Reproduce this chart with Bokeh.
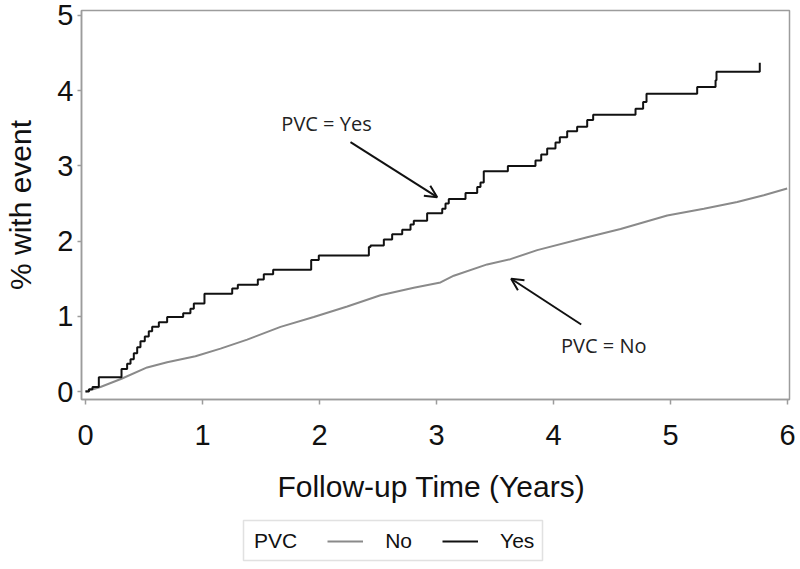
from bokeh.plotting import figure
from bokeh.layouts import column
from bokeh.models import (Range1d, Legend, LegendItem, Arrow, OpenHead, Label,
                          FixedTicker, BoxAnnotation)
from bokeh.embed import file_html
from bokeh.resources import INLINE

# ---- data ----
yes_time = [0.0, 0.03, 0.06, 0.114, 0.308, 0.356, 0.385, 0.413, 0.442, 0.470,
            0.507, 0.541, 0.570, 0.627, 0.698, 0.835, 0.897, 0.926, 1.017, 1.254,
            1.302, 1.473, 1.524, 1.604, 1.929, 1.994, 2.422, 2.436, 2.550, 2.621,
            2.707, 2.778, 2.806, 2.920, 3.049, 3.077, 3.105, 3.248, 3.348, 3.376,
            3.404, 3.610, 3.846, 3.895, 3.946, 4.017, 4.054, 4.117, 4.202, 4.288,
            4.339, 4.701, 4.766, 4.795, 5.228, 5.385, 5.393, 5.763]
yes_pct = [0.0, 0.03, 0.06, 0.19, 0.30, 0.37, 0.43, 0.51, 0.59, 0.67,
           0.73, 0.80, 0.86, 0.92, 0.99, 1.04, 1.10, 1.17, 1.30, 1.37,
           1.42, 1.49, 1.56, 1.62, 1.75, 1.81, 1.92, 1.94, 2.02, 2.09,
           2.15, 2.22, 2.27, 2.37, 2.43, 2.50, 2.56, 2.64, 2.72, 2.78,
           2.93, 3.00, 3.07, 3.15, 3.23, 3.31, 3.38, 3.46, 3.52, 3.61,
           3.68, 3.76, 3.85, 3.96, 4.05, 4.14, 4.25, 4.37]

no_time = [0.0, 0.128, 0.308, 0.527, 0.698, 0.940, 1.154, 1.382, 1.667, 1.951,
           2.237, 2.521, 2.806, 3.034, 3.148, 3.433, 3.632, 3.861, 4.288, 4.573,
           4.972, 5.285, 5.570, 5.797, 5.997]
no_pct = [0.0, 0.06, 0.17, 0.32, 0.39, 0.47, 0.57, 0.69, 0.86, 0.99,
          1.13, 1.28, 1.38, 1.45, 1.54, 1.69, 1.76, 1.88, 2.05, 2.16,
          2.34, 2.43, 2.52, 2.61, 2.70]

x_ticks = [0, 1, 2, 3, 4, 5, 6]
y_ticks = [0, 1, 2, 3, 4, 5]
series_names = ["No", "Yes"]
legend_title = "PVC"
x_title = "Follow-up Time  (Years)"
y_title = "% with event"

GREY_FRAME = "#9c9c9c"
NO_COLOR = "#8a8a8a"
YES_COLOR = "#111111"

# ---- main plot ----
p = figure(width=800, height=510,
           x_range=Range1d(-0.034, 6.017), y_range=Range1d(-0.106, 5.066),
           output_backend="svg", toolbar_location=None,
           min_border_left=81, min_border_right=11, min_border_top=10,
           min_border_bottom=111)

p.background_fill_color = "white"
p.border_fill_color = "white"
p.outline_line_color = GREY_FRAME
p.outline_line_width = 1.5
p.xgrid.visible = False
p.ygrid.visible = False

r_no = p.line(no_time, no_pct, line_color=NO_COLOR, line_width=2)
r_yes = p.step(yes_time, yes_pct, mode="after", line_color=YES_COLOR, line_width=2)

for ax in (p.xaxis[0], p.yaxis[0]):
    ax.axis_line_color = GREY_FRAME
    ax.axis_line_width = 1.5
    ax.major_tick_line_color = GREY_FRAME
    ax.major_tick_line_width = 1.5
    ax.major_tick_in = 0
    ax.minor_tick_line_color = None
    ax.major_label_text_font = "Liberation Sans"
    ax.major_label_text_font_size = "29px"
    ax.major_label_text_color = "#111111"
    ax.axis_label_text_font = "Liberation Sans"
    ax.axis_label_text_font_size = "30px"
    ax.axis_label_text_font_style = "normal"
    ax.axis_label_text_color = "#111111"

p.xaxis.ticker = FixedTicker(ticks=x_ticks)
p.yaxis.ticker = FixedTicker(ticks=y_ticks)
p.xaxis.major_tick_out = 5
p.yaxis.major_tick_out = 4
p.xaxis.major_label_standoff = 20
p.yaxis.major_label_standoff = 4
p.xaxis.axis_label = x_title
p.yaxis.axis_label = y_title
p.xaxis.axis_label_standoff = 22
p.yaxis.axis_label_standoff = 17

# annotations
p.add_layout(Arrow(end=OpenHead(size=12, line_width=2, line_color=YES_COLOR),
                   x_start=2.265, y_start=3.315, x_end=3.006, y_end=2.584,
                   line_width=2, line_color=YES_COLOR))
p.add_layout(Arrow(end=OpenHead(size=12, line_width=2, line_color=YES_COLOR),
                   x_start=4.237, y_start=0.891, x_end=3.638, y_end=1.499,
                   line_width=2, line_color=YES_COLOR))
p.add_layout(Label(x=2.06, y=3.56, text="PVC = Yes", text_align="center",
                   text_baseline="middle", text_font="Open Sans",
                   text_font_size="20px", text_color="#222222"))
p.add_layout(Label(x=4.43, y=0.61, text="PVC = No", text_align="center",
                   text_baseline="middle", text_font="Open Sans",
                   text_font_size="20px", text_color="#222222"))

# ---- legend strip: same side borders as the main plot; 1 data unit = 1 px ----
pl = figure(width=800, height=59, x_range=Range1d(81, 789), y_range=Range1d(0, 44),
            output_backend="svg", toolbar_location=None,
            x_axis_location=None, y_axis_location=None,
            min_border_left=81, min_border_right=11, min_border_top=8,
            min_border_bottom=7)
pl.xgrid.visible = False
pl.ygrid.visible = False
pl.outline_line_color = None
pl.background_fill_color = "white"
pl.border_fill_color = "white"

# legend proxies: the series drawn outside the strip's visible range
l_dummy = pl.line(no_time, no_pct, line_alpha=0)
l_no = pl.line(no_time, no_pct, line_color=NO_COLOR, line_width=2)
l_yes = pl.step(yes_time, yes_pct, mode="after", line_color=YES_COLOR, line_width=2)

pl.add_layout(BoxAnnotation(left=243, right=542, bottom=2, top=42,
                            fill_alpha=0, line_color=GREY_FRAME, line_width=1.5))

items = [LegendItem(label=legend_title, renderers=[l_dummy]),
         LegendItem(label=series_names[0], renderers=[l_no]),
         LegendItem(label=series_names[1], renderers=[l_yes])]
legend = Legend(items=items, orientation="horizontal", location=(115, 9),
                label_text_font="Liberation Sans", label_text_font_size="21px",
                label_text_color="#111111",
                glyph_width=36, glyph_height=20, label_standoff=22, spacing=30,
                padding=0, margin=0, border_line_color=None,
                background_fill_alpha=0)
pl.add_layout(legend, "center")

layout = column(p, pl, spacing=0)
open("out.html", "w").write(file_html(layout, INLINE))
